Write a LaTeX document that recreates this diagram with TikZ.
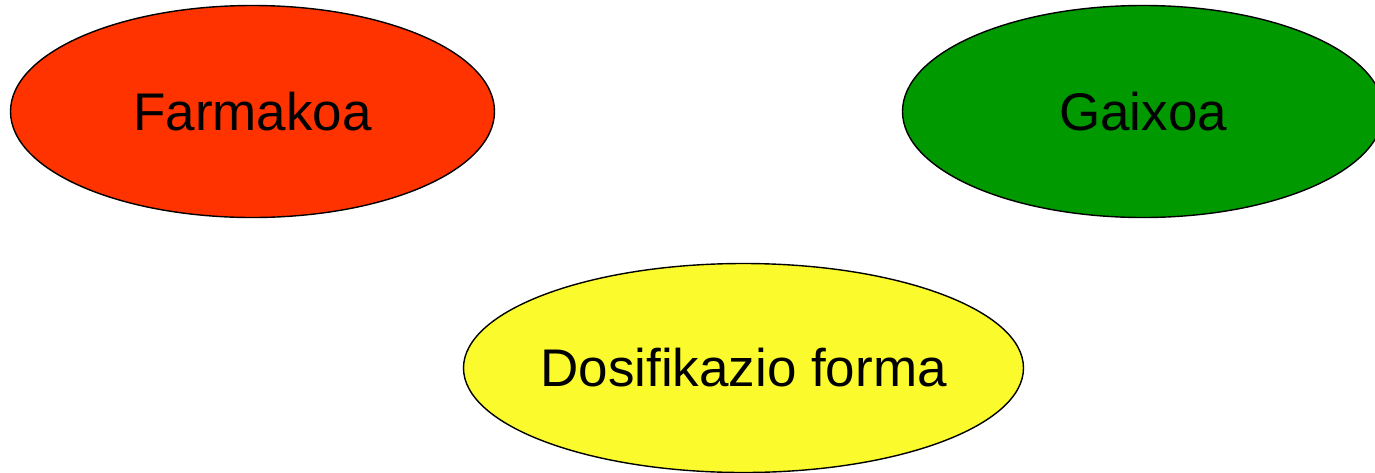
\documentclass[tikz,border=0pt]{standalone}
\usepackage{fontspec}
\setmainfont{Liberation Sans}
\usepackage{tikz}
\usetikzlibrary{shapes.geometric}
\definecolor{farmred}{RGB}{255,51,0}
\definecolor{gaigreen}{RGB}{0,153,0}
\definecolor{dosyellow}{RGB}{250,250,45}

\begin{document}
\begin{tikzpicture}[x=1pt,y=-1pt]
\tikzset{blob/.style = {shape=ellipse,draw,line width=1.4pt,inner sep=0pt,font=\fontsize{53}{63}\selectfont}}
\useasboundingbox (0,0) rectangle (1375,472);
% vertices
\node[blob,fill=farmred,minimum width=484pt,minimum height=212pt] (far) at (252.5,111.5) {Farmakoa};
\node[blob,fill=gaigreen,minimum width=481pt,minimum height=212pt] (gai) at (1143,111.5) {Gaixoa};
\node[blob,fill=dosyellow,inner xsep=-15pt,minimum width=560pt,minimum height=209pt] (dos) at (743.5,368) {Dosifikazio forma};
\end{tikzpicture}
\end{document}
